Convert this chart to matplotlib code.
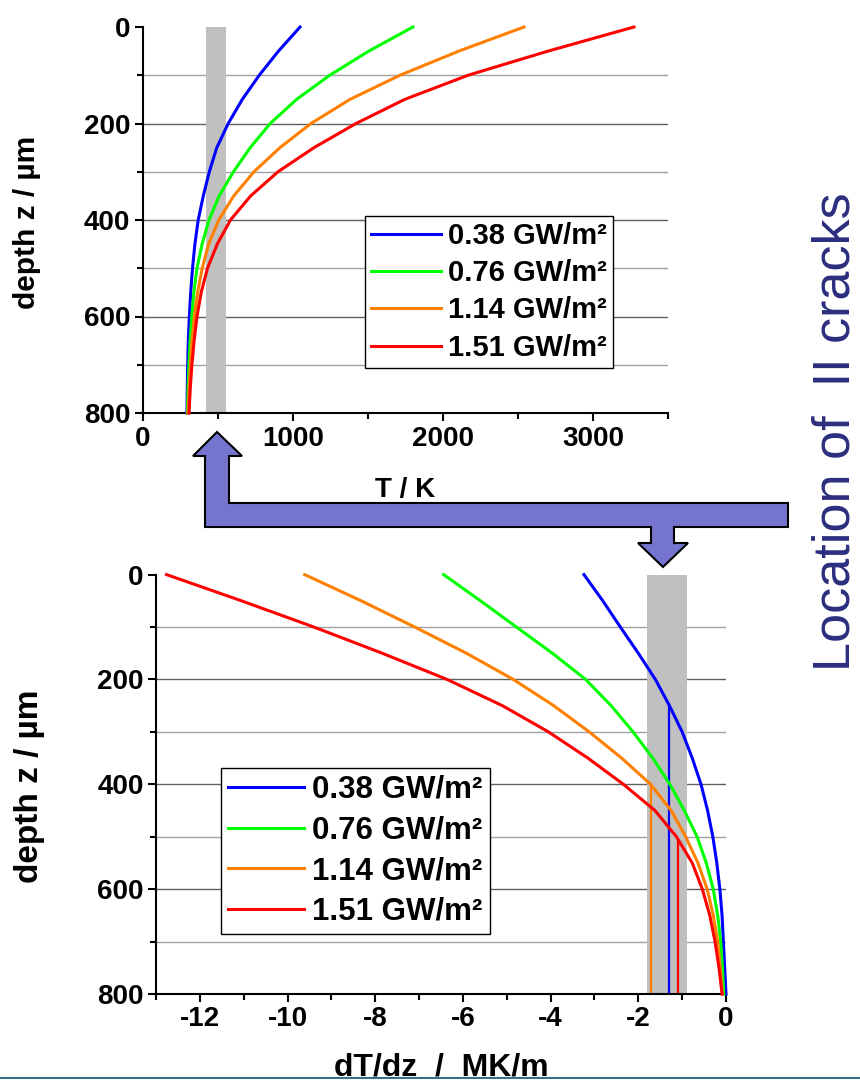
import matplotlib.pyplot as plt
from matplotlib.patches import Polygon
from matplotlib.lines import Line2D
from matplotlib.ticker import MultipleLocator

plt.rcParams['font.family'] = ['Liberation Sans', 'DejaVu Sans']
plt.rcParams['font.weight'] = 'bold'
plt.rcParams['axes.labelweight'] = 'bold'
plt.rcParams['axes.unicode_minus'] = False

# depth in micrometres, read every 50 um
depth = [0, 50, 100, 150, 200, 250, 300, 350, 400,
         450, 500, 550, 600, 650, 700, 750, 800]

labels = ['0.38 GW/m²', '0.76 GW/m²', '1.14 GW/m²', '1.51 GW/m²']
colors = ['#0000FF', '#00FF00', '#FF8000', '#FF0000']

# temperature T / K (upper plot)
temp_038 = [1047, 903, 775, 662, 568, 492, 442, 402, 368,
            346, 330, 318, 309, 302, 298, 295, 293]
temp_076 = [1800, 1505, 1245, 1024, 848, 715, 603, 508, 440,
            394, 360, 339, 325, 314, 306, 300, 296]
temp_114 = [2540, 2105, 1713, 1380, 1120, 913, 740, 605, 505,
            437, 395, 364, 342, 327, 316, 307, 300]
temp_151 = [3273, 2700, 2167, 1745, 1420, 1140, 900, 718, 583,
            495, 430, 388, 360, 341, 326, 315, 307]

# temperature gradient dT/dz / MK/m (lower plot)
grad_038 = [-3.24, -2.81, -2.41, -2.00, -1.61, -1.29, -1.00, -0.77, -0.57,
            -0.42, -0.30, -0.21, -0.14, -0.09, -0.06, -0.03, 0.0]
grad_076 = [-6.44, -5.60, -4.78, -3.96, -3.20, -2.62, -2.12, -1.67, -1.28,
            -0.95, -0.66, -0.45, -0.29, -0.19, -0.12, -0.08, -0.05]
grad_114 = [-9.61, -8.32, -7.10, -5.92, -4.85, -3.93, -3.12, -2.38, -1.72,
            -1.25, -0.92, -0.64, -0.43, -0.29, -0.19, -0.13, -0.08]
grad_151 = [-12.76, -11.05, -9.40, -7.84, -6.36, -5.10, -4.05, -3.15, -2.34,
            -1.62, -1.13, -0.77, -0.54, -0.37, -0.25, -0.16, -0.09]

temps = [temp_038, temp_076, temp_114, temp_151]
grads = [grad_038, grad_076, grad_114, grad_151]

# crack region (grey bands) and marker lines
band_T = (420, 550)
band_grad = (-1.8, -0.9)
crack_grad = [-1.71, -1.30, -1.10]
crack_depth = [397, 244, 504]
crack_colors = ['#FF8000', '#0000FF', '#FF0000']

W, H = 860, 1083


def fig_box(left, top, right, bottom):
    return [left / W, 1 - bottom / H, (right - left) / W, (bottom - top) / H]


def style_axes(ax, xmajor, xminor):
    for s in ['top', 'right']:
        ax.spines[s].set_visible(False)
    for s in ['left', 'bottom']:
        ax.spines[s].set_linewidth(1.5)
    ax.set_ylim(800, 0)
    ax.yaxis.set_major_locator(MultipleLocator(200))
    ax.yaxis.set_minor_locator(MultipleLocator(100))
    ax.xaxis.set_major_locator(MultipleLocator(xmajor))
    ax.xaxis.set_minor_locator(MultipleLocator(xminor))
    ax.tick_params(which='major', direction='out', length=6, width=1.5, labelsize=20)
    ax.tick_params(which='minor', direction='out', length=4, width=1.5)
    ax.tick_params(axis='x', which='major', pad=3)
    ax.tick_params(axis='y', which='major', pad=3)
    ax.grid(True, axis='y', which='major', color='#606060', lw=1)
    ax.grid(True, axis='y', which='minor', color='#a0a0a0', lw=1)
    ax.set_axisbelow(True)
    for t, loc in zip(ax.yaxis.get_major_ticks(), ax.yaxis.get_majorticklocs()):
        if loc in (0, 800):
            t.gridline.set_visible(False)


fig = plt.figure(figsize=(W / 100, H / 100), dpi=100)

# ---- upper plot: temperature
ax1 = fig.add_axes(fig_box(143, 27, 668, 413))
ax1.set_xlim(0, 3500)
style_axes(ax1, 1000, 500)
ax1.axvspan(*band_T, color='#C0C0C0', zorder=1.5, lw=0)
for t, c, lab in zip(temps, colors, labels):
    ax1.plot(t, depth, color=c, lw=2.2, label=lab, zorder=3, clip_on=False)
ax1.set_xlabel('T / K', fontsize=20)
ax1.xaxis.set_label_coords(0.5, -0.167)
ax1.set_ylabel('depth z / µm', fontsize=21.5)
ax1.yaxis.set_label_coords(-0.194, 0.495)
leg1 = ax1.legend(loc='upper left', bbox_to_anchor=(365 / W, 1 - 216 / H),
                  bbox_transform=fig.transFigure, borderaxespad=0, fontsize=21,
                  fancybox=False, edgecolor='black', framealpha=1,
                  handlelength=2.4, handletextpad=0.25, labelspacing=0.32,
                  borderpad=0.2)
leg1.get_frame().set_linewidth(1.0)

# ---- lower plot: gradient
ax2 = fig.add_axes(fig_box(156, 574.6, 726, 994))
ax2.set_xlim(-13, 0)
style_axes(ax2, 2, 1)
ax2.axvspan(*band_grad, color='#C0C0C0', zorder=1.5, lw=0)
for g, c, lab in zip(grads, colors, labels):
    ax2.plot(g, depth, color=c, lw=2.2, label=lab, zorder=3, clip_on=False)
ax2.vlines(crack_grad, crack_depth, 800, colors=crack_colors, lw=1.6, zorder=2.5)
ax2.set_xlabel('dT/dz  /  MK/m', fontsize=23)
ax2.xaxis.set_label_coords(0.5, -0.139)
ax2.set_ylabel('depth z / µm', fontsize=24)
ax2.yaxis.set_label_coords(-0.195, 0.496)
leg2 = ax2.legend(loc='upper left', bbox_to_anchor=(221 / W, 1 - 768 / H),
                  bbox_transform=fig.transFigure, borderaxespad=0, fontsize=22.5,
                  fancybox=False, edgecolor='black', framealpha=1,
                  handlelength=2.45, handletextpad=0.25, labelspacing=0.34,
                  borderpad=0.22)
leg2.get_frame().set_linewidth(1.0)

# ---- connecting arrow (pixel outline)
arrow_px = [(217, 432), (242, 456), (229, 456), (229, 503), (788, 503),
            (788, 527), (674, 527), (674, 543), (688, 543), (663, 567),
            (638, 543), (651, 543), (651, 527), (205, 527), (205, 456),
            (193, 456)]
arrow = Polygon([(x / W, 1 - y / H) for x, y in arrow_px], closed=True,
                transform=fig.transFigure, facecolor='#7575CF',
                edgecolor='black', lw=1.5, zorder=5)
fig.add_artist(arrow)

fig.text(849 / W, 1 - 432 / H, 'Location of  II cracks', rotation=90,
         rotation_mode='anchor', ha='center', va='baseline', fontsize=37.5,
         fontweight='normal', color='#2B2D7E')

fig.add_artist(Line2D([0, 1], [1 - 1078 / H] * 2, transform=fig.transFigure,
                      color='#3B6E8C', lw=1.5, zorder=10))

fig.savefig('out.png', dpi=100)
